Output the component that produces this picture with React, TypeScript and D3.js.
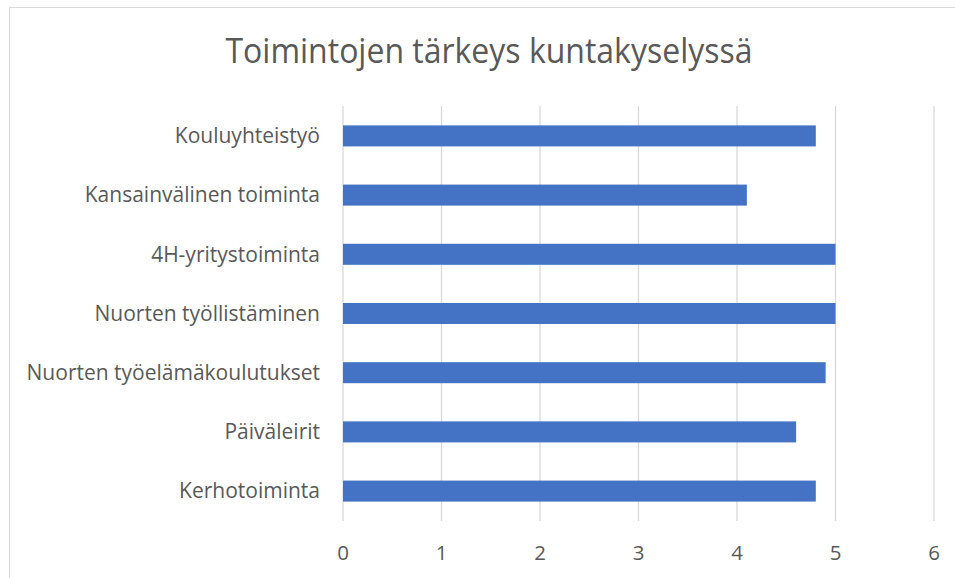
import React from "react";
import * as d3 from "d3";

const categories = [
  "Kouluyhteistyö",
  "Kansainvälinen toiminta",
  "4H-yritystoiminta",
  "Nuorten työllistäminen",
  "Nuorten työelämäkoulutukset",
  "Päiväleirit",
  "Kerhotoiminta",
];
const values = [4.8, 4.1, 5.0, 5.0, 4.9, 4.6, 4.8];
const xTicks = [0, 1, 2, 3, 4, 5, 6];
const title = "Toimintojen tärkeys kuntakyselyssä";

export default function App() {
  const W = 955;
  const H = 578;
  const x = d3.scaleLinear().domain([0, 6]).range([343, 934]);
  const y = d3
    .scaleBand<string>()
    .domain(categories)
    .range([106.3, 520.7])
    .paddingInner(0.645)
    .paddingOuter(0.3225);
  const font = "'Open Sans', Lato, sans-serif";
  return (
    <svg
      width={W}
      height={H}
      style={{ position: "absolute", left: 0, top: 0 }}
    >
      <rect x={0} y={0} width={W} height={H} fill="#fff" />
      <rect
        x={9.5}
        y={7.5}
        width={1000}
        height={1000}
        fill="#fff"
        stroke="#d9d9d9"
        strokeWidth={1}
      />
      <text
        x={489}
        y={63}
        textAnchor="middle"
        fontFamily={font}
        fontSize={35}
        fill="#595959"
        textLength={527}
        lengthAdjust="spacingAndGlyphs"
      >
        {title}
      </text>
      {xTicks.map((t) => (
        <g key={t}>
          <line
            x1={x(t)}
            x2={x(t)}
            y1={106}
            y2={521}
            stroke="#d9d9d9"
            strokeWidth={1.3}
          />
          <text
            x={x(t)}
            y={560}
            textAnchor="middle"
            fontFamily={font}
            fontSize={20.5}
            fill="#595959"
          >
            {t}
          </text>
        </g>
      ))}
      {categories.map((c, i) => (
        <g key={c}>
          <rect
            x={x(0)}
            y={y(c)}
            width={x(values[i]) - x(0)}
            height={y.bandwidth()}
            fill="#4472c4"
          />
          <text
            x={320}
            y={(y(c) as number) + y.bandwidth() / 2}
            dy="0.35em"
            textAnchor="end"
            fontFamily={font}
            fontSize={21}
            fill="#595959"
          >
            {c}
          </text>
        </g>
      ))}
    </svg>
  );
}
